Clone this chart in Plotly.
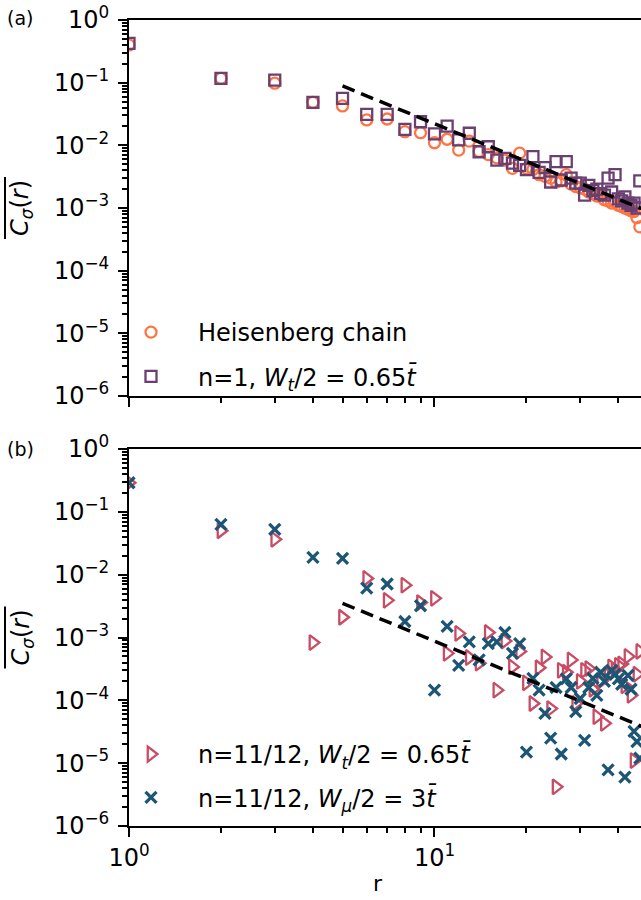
import plotly.graph_objects as go

# ---------------- data ----------------
r_vals = list(range(1, 48))

heis_chain = [0.40, 0.117, 0.098, 0.0486, 0.0425, 0.0254, 0.0263, 0.0165, 0.0159, 0.0110,
              0.0125, 0.0084, 0.0117, 0.0080, 0.0071, 0.0063, 0.0058, 0.0043, 0.0075, 0.0043,
              0.0041, 0.0034, 0.0032, 0.0030, 0.0026, 0.0027, 0.0034, 0.0024, 0.0022, 0.0021,
              0.0020, 0.0018, 0.0017, 0.00155, 0.0016, 0.00135, 0.0013, 0.0012, 0.00125, 0.0011,
              0.00105, 0.0010, 0.00095, 0.0009, 0.00088, 0.0007, 0.00050]

n1_wt = [0.425, 0.117, 0.110, 0.0486, 0.0563, 0.0313, 0.0313, 0.0180, 0.0238, 0.0152,
         0.0203, 0.0122, 0.0156, 0.0079, 0.0095, 0.0058, 0.0062, 0.0052, 0.0048, 0.0041,
         0.0066, 0.0037, 0.0044, 0.0026, 0.0055, 0.0028, 0.0055, 0.0030, 0.0025, 0.0025,
         0.0016, 0.0023, 0.0019, 0.0020, 0.0017, 0.0016, 0.0030, 0.0018, 0.0034, 0.0014,
         0.0013, 0.0015, 0.0012, 0.0011, 0.0012, 0.0010, 0.0027]

n1112_wt = [0.29, 0.050, 0.0365, 0.00083, 0.0021, 0.0087, 0.0039, 0.0068, 0.0036, 0.0042,
            0.00056, 0.00116, 0.00048, 0.00039, 0.00120, 0.000145, 0.00088, 0.00034, 0.00060, 0.00019,
            0.000089, 0.00033, 0.00049, 0.000074, 0.0000042, 0.00030, 0.00028, 0.00044, 0.000089, 0.00020,
            0.00030, 0.00032, 0.00015, 0.000055, 0.00020, 0.000043, 0.00025, 0.00034, 0.00030, 0.00036,
            0.00038, 0.00017, 0.00050, 0.00012, 0.000011, 0.00026, 0.00060]

n1112_wmu = [0.29, 0.063, 0.0525, 0.0189, 0.0182, 0.0061, 0.0071, 0.0018, 0.0032, 0.000145,
             0.0015, 0.00036, 0.00085, 0.00044, 0.00080, 0.00085, 0.00120, 0.00056, 0.00080, 0.000015,
             0.000224, 0.000145, 0.000062, 0.000025, 0.00016, 0.000014, 0.00022, 0.00016, 0.000066, 0.000107,
             0.000023, 0.00016, 0.000224, 0.00012, 0.00028, 0.00020, 0.0000078, 0.00030, 0.00026, 0.00022,
             0.00018, 0.000006, 0.00025, 0.00015, 0.000032, 0.000022, 0.000012]

# power-law guides (~ r^-2)
guide_r = [5, 50]
guide_a = [0.0885, 0.000885]
guide_b = [0.0035, 0.000035]

x_tick_vals = [1, 10]
x_tick_text = ["10<sup>0</sup>", "10<sup>1</sup>"]
y_tick_vals = [1e-6, 1e-5, 1e-4, 1e-3, 1e-2, 1e-1, 1]
y_tick_text = ["10<sup>−6</sup>", "10<sup>−5</sup>", "10<sup>−4</sup>", "10<sup>−3</sup>",
               "10<sup>−2</sup>", "10<sup>−1</sup>", "10<sup>0</sup>"]

# ---------------- styling ----------------
W, H = 641, 900
L, R, T, B = 129, 0, 20, 74
PW, PH = W - L - R, H - T - B
FONT = "DejaVu Sans"
C_HEIS = "#ff7443"
C_N1 = "#6b3f70"
C_WT = "#c94b64"
C_WMU = "#1d5675"


def px_x(p):
    return (p - L) / PW


def px_y(p):
    return (H - B - p) / PH


top_a, bot_a = 20, 396
top_b, bot_b = 449, 826

fig = go.Figure()

fig.add_trace(go.Scatter(x=r_vals, y=heis_chain, mode="markers", name="Heisenberg chain",
                         marker=dict(symbol="circle-open", size=11, color=C_HEIS, line=dict(width=2.3)),
                         xaxis="x", yaxis="y", legend="legend", legendgroup="a1"))
fig.add_trace(go.Scatter(x=r_vals, y=n1_wt, mode="markers",
                         name="n=1, <i>W<sub>t</sub></i>/2 = 0.65<i>t̄</i>",
                         marker=dict(symbol="square-open", size=11, color=C_N1, line=dict(width=2.3)),
                         xaxis="x", yaxis="y", legend="legend", legendgroup="a2"))
fig.add_trace(go.Scatter(x=guide_r, y=guide_a, mode="lines", showlegend=False,
                         line=dict(color="black", width=3.5, dash="13px,7px"),
                         xaxis="x", yaxis="y"))

fig.add_trace(go.Scatter(x=r_vals, y=n1112_wt, mode="markers",
                         name="n=11/12, <i>W<sub>t</sub></i>/2 = 0.65<i>t̄</i>",
                         marker=dict(symbol="triangle-right-open", size=13, color=C_WT, line=dict(width=2.3)),
                         xaxis="x2", yaxis="y2", legend="legend2", legendgroup="b1"))
fig.add_trace(go.Scatter(x=r_vals, y=n1112_wmu, mode="markers",
                         name="n=11/12, <i>W<sub>μ</sub></i>/2 = 3<i>t̄</i>",
                         marker=dict(symbol="x-thin", size=11, color=C_WMU, line=dict(width=3.3, color=C_WMU)),
                         xaxis="x2", yaxis="y2", legend="legend2", legendgroup="b2"))
fig.add_trace(go.Scatter(x=guide_r, y=guide_b, mode="lines", showlegend=False,
                         line=dict(color="black", width=3.5, dash="13px,7px"),
                         xaxis="x2", yaxis="y2"))

x_minor = [2, 3, 4, 5, 6, 7, 8, 9, 20, 30, 40]
y_minor = [m * 10.0 ** e for e in range(-6, 0) for m in range(2, 10)]

common_x = dict(type="log", range=[0, 1.676], showline=True, linecolor="black", linewidth=2,
                mirror=True, ticks="outside", ticklen=9, tickwidth=2, tickcolor="black",
                tickmode="array", tickvals=x_tick_vals, ticktext=x_tick_text,
                showgrid=False, zeroline=False,
                tickfont=dict(family=FONT, size=24, color="black"),
                minor=dict(tickmode="array", tickvals=x_minor, ticks="outside", ticklen=5,
                           tickwidth=1.5, tickcolor="black", showgrid=False))
common_y = dict(type="log", range=[-6, 0], showline=True, linecolor="black", linewidth=2,
                mirror=False, ticks="outside", ticklen=9, tickwidth=2, tickcolor="black",
                tickmode="array", tickvals=y_tick_vals, ticktext=y_tick_text,
                showgrid=False, zeroline=False, ticklabelstandoff=4,
                tickfont=dict(family=FONT, size=24, color="black"),
                minor=dict(tickmode="array", tickvals=y_minor, ticks="outside", ticklen=5,
                           tickwidth=1.5, tickcolor="black", showgrid=False))

fig.update_layout(
    width=W, height=H,
    margin=dict(l=L, r=R, t=T, b=B, autoexpand=False),
    paper_bgcolor="white", plot_bgcolor="white",
    font=dict(family=FONT, size=24, color="black"),
    xaxis=dict(common_x, domain=[0, 1], anchor="y", showticklabels=False),
    yaxis=dict(common_y, domain=[px_y(bot_a), px_y(top_a)], anchor="x"),
    xaxis2=dict(common_x, domain=[0, 1], anchor="y2", showticklabels=True),
    yaxis2=dict(common_y, domain=[px_y(bot_b), px_y(top_b)], anchor="x2"),
    legend=dict(x=px_x(104), y=px_y(310), xanchor="left", yanchor="top",
                bgcolor="rgba(0,0,0,0)", font=dict(family=FONT, size=24),
                itemwidth=84, tracegroupgap=10, traceorder="grouped"),
    legend2=dict(x=px_x(104), y=px_y(732), xanchor="left", yanchor="top",
                 bgcolor="rgba(0,0,0,0)", font=dict(family=FONT, size=24),
                 itemwidth=84, tracegroupgap=9, traceorder="grouped"),
    showlegend=True,
)

# panel tags and axis labels
annotations = [
    dict(text="(a)", x=px_x(20), y=px_y(18), font=dict(size=19)),
    dict(text="(b)", x=px_x(20), y=px_y(449), font=dict(size=19)),
    dict(text="r", x=px_x(378), y=px_y(884), font=dict(size=22)),
]
for yc in [(top_a + bot_a) / 2, (top_b + bot_b) / 2]:
    annotations.append(dict(text="<i>C</i><sub><i>σ</i></sub>(<i>r</i>)", x=px_x(22), y=px_y(yc),
                            textangle=-90, font=dict(size=24)))
for a in annotations:
    a.update(xref="paper", yref="paper", showarrow=False, xanchor="center", yanchor="middle")
fig.update_layout(annotations=annotations)

# overbar of the averaged correlator label
shapes = []
for yc in [(top_a + bot_a) / 2, (top_b + bot_b) / 2]:
    shapes.append(dict(type="line", xref="paper", yref="paper",
                       x0=px_x(5), x1=px_x(5), y0=px_y(yc - 31), y1=px_y(yc + 31),
                       line=dict(color="black", width=2)))
fig.update_layout(shapes=shapes)

fig.write_html("out.html")
